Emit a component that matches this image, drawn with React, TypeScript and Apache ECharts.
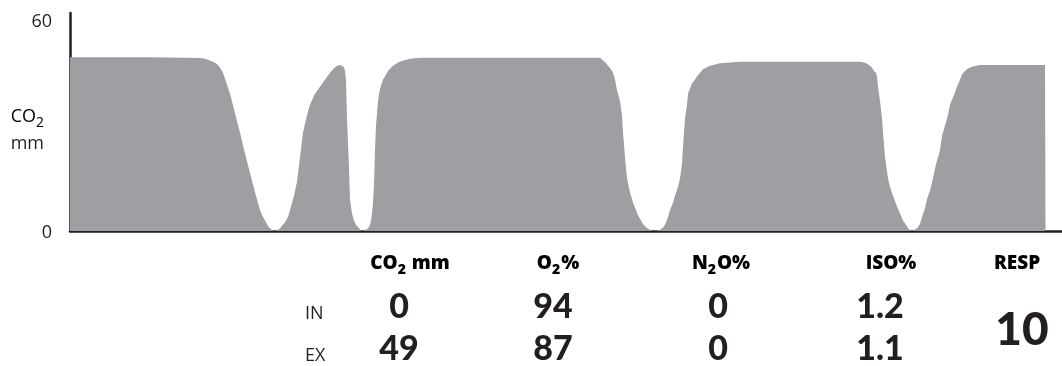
import React, { useEffect, useRef } from "react";
import * as echarts from "echarts";

// Capnogram samples: [time (sweep units), CO2 (mm Hg)]
const capnogram: [number, number][] = [
  [0, 49.4], [80, 49.4], [130, 49.2], [135, 49], [140, 48.5], [144, 48], [147, 47.5], [150, 46.5], [153, 45],
  [156, 42.5], [160, 39], [165, 33.5], [170, 28], [175, 22], [180, 16.5], [185, 11], [190, 6], [193, 4], [196, 2.5],
  [198, 1.4], [200, 0.7], [203, 0.2], [205, 0],
  [207, 0.2], [210, 0.7], [212, 1.5], [215, 2.5], [218, 4], [220, 6], [224, 10], [227, 14], [230, 21], [233, 28],
  [237, 33], [240, 36], [245, 39], [250, 41], [255, 43], [260, 45], [264, 46.3], [267, 47], [270, 47.2], [272, 47],
  [274, 46.5], [275, 45.5], [276, 43], [277, 32], [279, 18], [280, 9], [282, 5], [284, 3], [286, 1.8], [289, 0.8],
  [292, 0],
  [295, 0.2], [298, 0.8], [300, 1.6], [301, 3], [302, 5], [303, 8], [304, 13], [305, 23], [306, 30], [308, 37],
  [310, 40.5], [313, 43], [318, 45.5], [323, 47], [330, 48.2], [340, 49], [350, 49.3], [530, 49.3],
  [533, 48.5], [536, 47.8], [538, 47], [541, 46], [543, 45], [545, 43], [547, 40], [550, 37], [552, 33], [553, 28],
  [555, 21], [557, 15], [560, 11], [563, 8], [566, 6], [568, 4.5], [571, 3], [573, 2], [576, 1.1], [579, 0.5],
  [582, 0.1], [585, 0],
  [588, 0.2], [591, 0.5], [594, 1.3], [596, 2.5], [598, 4], [600, 6], [603, 8], [605, 10], [608, 12.5], [610, 15],
  [612, 19], [613, 24], [614, 28], [615, 32], [617, 36], [618, 39], [620, 40.5], [622, 42], [625, 43], [627, 44],
  [630, 45], [633, 46], [640, 47], [650, 47.7], [670, 48.1], [790, 48.1],
  [793, 48], [796, 47.7], [798, 47.4], [800, 47], [802, 46.5], [804, 45.5], [806, 45], [807, 44], [808, 41],
  [810, 37], [812, 32], [813, 28], [815, 21], [818, 15], [820, 12.5], [823, 10], [825, 8.5], [827, 7], [830, 5],
  [833, 3], [836, 1.8], [838, 0.8], [840, 0.3], [842, 0],
  [844, 0.3], [847, 0.8], [850, 2], [852, 4], [855, 6.5], [857, 9], [860, 11.5], [863, 15], [866, 19], [870, 23],
  [872, 27], [875, 30], [878, 33], [880, 36], [883, 38], [887, 41], [890, 43], [892, 44.5], [895, 45.5], [897, 46],
  [900, 46.5], [903, 46.8], [907, 47.1], [910, 47.2], [975, 47.2], [975.5, 0],
];

const yTickValues: number[] = [0, 60];
const yMax = 62;
const xMax = 992;

const headers: string[] = ["{b|CO}{bs|2}{b| mm}", "{b|O}{bs|2}{b|%}", "{b|N}{bs|2}{b|O%}", "{b|ISO%}", "{b|RESP}"];
const rowLabels: string[] = ["IN", "EX"];
const inValues: string[] = ["0", "94", "0", "1.2"];
const exValues: string[] = ["49", "87", "0", "1.1"];
const respValue = "10";

const FONT = "Lato, 'Open Sans', sans-serif";
const HFONT = "'Open Sans', Lato, sans-serif";
const INK = "#231f20";
const GRAY = "#9d9fa2";

export default function App() {
  const ref = useRef<HTMLDivElement>(null);

  useEffect(() => {
    if (!ref.current) return;
    const chart = echarts.init(ref.current, undefined, { renderer: "svg" });

    const headerX = [410, 558, 721, 891, 1017];
    const valueX = [399, 553, 718, 880];
    const rowY = [304, 346];
    const rowLabelY = [312, 354];

    const richHead = {
      b: { fontFamily: HFONT, fontSize: 19, fontWeight: 800, color: INK, lineHeight: 26, verticalAlign: "top" },
      bs: { fontFamily: HFONT, fontSize: 14, fontWeight: 800, color: INK, lineHeight: 26, padding: [9, 1, 0, 0], verticalAlign: "top" },
    };

    const graphics: any[] = [];
    headers.forEach((h, i) => {
      graphics.push({
        type: "text",
        x: headerX[i],
        y: 265,
        style: { text: h, rich: richHead, align: "center", verticalAlign: "middle" },
      });
    });
    rowLabels.forEach((r, i) => {
      graphics.push({
        type: "text",
        x: 305,
        y: rowLabelY[i],
        style: { text: r, fontFamily: HFONT, fontSize: 18, lineHeight: 18, fill: INK, align: "left", verticalAlign: "middle" },
      });
    });
    [inValues, exValues].forEach((vals, ri) => {
      vals.forEach((v, ci) => {
        graphics.push({
          type: "text",
          x: valueX[ci],
          y: rowY[ri],
          style: {
            text: v,
            fontFamily: FONT,
            fontSize: 34,
            lineHeight: 28,
            fontWeight: 900,
            fill: INK,
            align: "center",
            verticalAlign: "middle",
          },
        });
      });
    });
    graphics.push({
      type: "text",
      x: 1022,
      y: 327,
      style: { text: respValue, fontFamily: FONT, fontSize: 46, fontWeight: 900, fill: INK, align: "center", verticalAlign: "middle" },
    });
    graphics.push({
      type: "text",
      x: 44,
      y: 118,
      style: {
        text: "{a|CO}{s|2}",
        rich: {
          a: { fontFamily: HFONT, fontSize: 18, color: INK, lineHeight: 24, verticalAlign: "top" },
          s: { fontFamily: HFONT, fontSize: 14, color: INK, lineHeight: 24, padding: [8, 0, 0, 0], verticalAlign: "top" },
        },
        align: "right",
        verticalAlign: "middle",
      },
    });
    graphics.push({
      type: "text",
      x: 44,
      y: 142,
      style: { text: "mm", fontFamily: HFONT, fontSize: 18, fill: INK, align: "right", verticalAlign: "middle" },
    });

    chart.setOption({
      animation: false,
      grid: { left: 70, right: 0, top: 13, bottom: 135, containLabel: false },
      xAxis: {
        type: "value",
        min: 0,
        max: xMax,
        axisLine: { show: true, lineStyle: { color: INK, width: 2.5 } },
        axisTick: { show: false },
        axisLabel: { show: false },
        splitLine: { show: false },
      },
      yAxis: {
        type: "value",
        min: 0,
        max: yMax,
        axisLine: { show: true, lineStyle: { color: INK, width: 2.5 } },
        axisTick: { show: false },
        splitLine: { show: false },
        axisLabel: {
          customValues: yTickValues,
          margin: 18,
          fontFamily: HFONT,
          fontSize: 18,
          color: INK,
        },
      },
      series: [
        {
          type: "line",
          data: capnogram,
          showSymbol: false,
          smooth: false,
          lineStyle: { width: 0, color: GRAY },
          itemStyle: { color: GRAY },
          areaStyle: { color: GRAY, opacity: 1 },
          z: 1,
        },
      ],
      graphic: graphics,
    });

    return () => chart.dispose();
  }, []);

  return <div ref={ref} style={{ position: "fixed", left: 0, top: 0, width: 1062, height: 366 }} />;
}
